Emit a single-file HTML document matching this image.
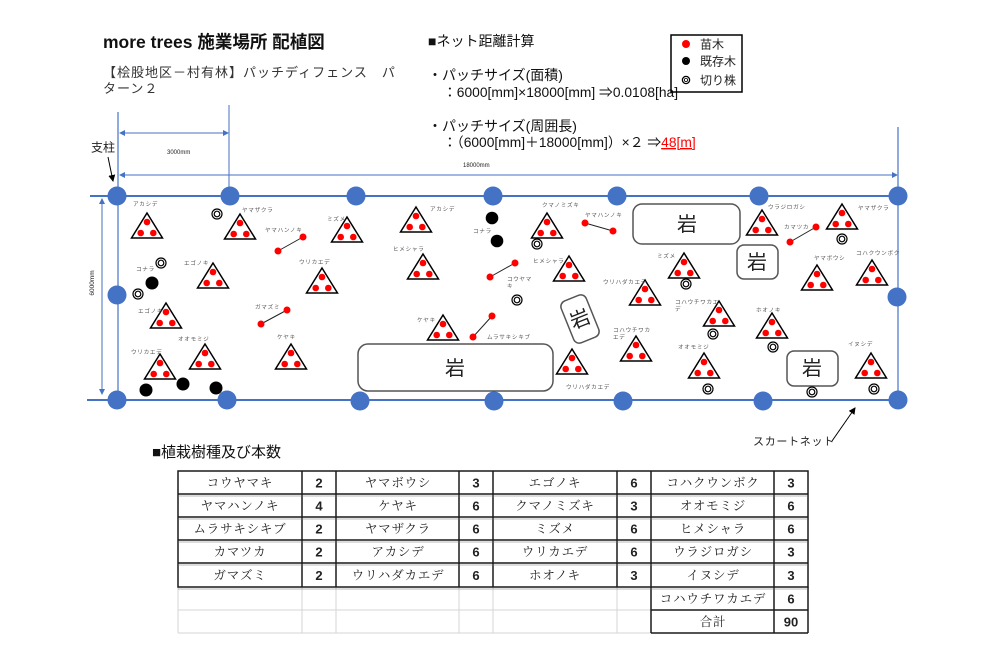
<!DOCTYPE html>
<html><head><meta charset="utf-8">
<style>
html,body{margin:0;padding:0;background:#fff;}
svg{display:block;}
text{font-family:"Liberation Sans","Noto Sans CJK JP",sans-serif;}
.t polygon{fill:#fff;stroke:#000;stroke-width:1.5;stroke-linejoin:miter;}
.t circle{fill:#f00;}
.l{font-size:5.6px;fill:#555;letter-spacing:0.7px;}
.r circle{fill:none;stroke:#000;stroke-width:1.2;}
.bk{fill:#000;}
.p line{stroke:#222;stroke-width:1;}
.p circle{fill:#f00;}
.post{fill:#4472C4;}
.rock{fill:#fff;stroke:#555;stroke-width:1.5;}
.rk{font-family:"Liberation Sans","Noto Sans CJK JP",sans-serif;font-size:20px;fill:#222;text-anchor:middle;}
.tc{font-family:"Liberation Serif","Noto Serif CJK SC",serif;font-size:12.5px;fill:#222;text-anchor:middle;letter-spacing:0.8px;}
.tn{font-family:"Liberation Sans",sans-serif;font-size:13px;font-weight:bold;fill:#222;text-anchor:middle;}
</style></head>
<body>
<svg width="1000" height="666" viewBox="0 0 1000 666" xmlns="http://www.w3.org/2000/svg">
<defs>
<marker id="ab" markerWidth="6" markerHeight="6" refX="5" refY="3" orient="auto" markerUnits="userSpaceOnUse"><path d="M0,0 L6,3 L0,6 z" fill="#4472C4"/></marker>
<marker id="abs" markerWidth="6" markerHeight="6" refX="1" refY="3" orient="auto" markerUnits="userSpaceOnUse"><path d="M6,0 L0,3 L6,6 z" fill="#4472C4"/></marker>
<marker id="ak" markerWidth="7" markerHeight="7" refX="6" refY="3.5" orient="auto" markerUnits="userSpaceOnUse"><path d="M0,0 L7,3.5 L0,7 z" fill="#000"/></marker>
</defs>
<rect width="1000" height="666" fill="#fff"/>

<!-- Title -->
<text x="103" y="48" font-size="17.5" font-weight="bold" fill="#111">more trees 施業場所 配植図</text>
<text x="103" y="77" font-size="13" fill="#333" letter-spacing="1">【桧股地区－村有林】パッチディフェンス　パ</text>
<text x="103" y="93" font-size="13" fill="#333" letter-spacing="1">ターン２</text>

<!-- Net calc -->
<text x="428" y="46" font-size="14" fill="#111">■ネット距離計算</text>
<text x="428" y="80" font-size="14" fill="#111">・パッチサイズ(面積)</text>
<text x="443" y="97" font-size="13.8" fill="#111">：6000[mm]×18000[mm] ⇒0.0108[ha]</text>
<text x="428" y="131" font-size="14" fill="#111">・パッチサイズ(周囲長)</text>
<text x="443" y="147" font-size="13.8" fill="#111">：（6000[mm]＋18000[mm]）×２ ⇒<tspan fill="#f00" text-decoration="underline">48[m]</tspan></text>

<!-- Legend -->
<rect x="671" y="35" width="71" height="57" fill="none" stroke="#000" stroke-width="1.5"/>
<circle cx="686" cy="44" r="4" fill="#f00"/>
<text x="700" y="48.5" font-size="12" fill="#222">苗木</text>
<circle cx="686" cy="61" r="4" fill="#000"/>
<text x="700" y="65.5" font-size="12" fill="#222">既存木</text>
<circle cx="686" cy="80" r="3.6" fill="none" stroke="#000" stroke-width="1.3"/>
<circle cx="686" cy="80" r="1.6" fill="none" stroke="#000" stroke-width="0.8"/>
<text x="700" y="84.5" font-size="12" fill="#222">切り株</text>

<!-- Dimension lines -->
<line x1="118" y1="112" x2="118" y2="400" stroke="#8FAADC" stroke-width="2"/>
<line x1="898" y1="127" x2="898" y2="400" stroke="#8FAADC" stroke-width="2"/>
<line x1="229" y1="105" x2="229" y2="196" stroke="#4472C4" stroke-width="1"/>
<line x1="120" y1="133" x2="228" y2="133" stroke="#4472C4" stroke-width="1" marker-start="url(#abs)" marker-end="url(#ab)"/>
<text x="167" y="154" font-size="6" fill="#222">3000mm</text>
<line x1="120" y1="175" x2="897" y2="175" stroke="#4472C4" stroke-width="1" marker-start="url(#abs)" marker-end="url(#ab)"/>
<text x="463" y="167" font-size="6" fill="#222">18000mm</text>
<line x1="102" y1="199" x2="102" y2="394" stroke="#4472C4" stroke-width="1" marker-start="url(#abs)" marker-end="url(#ab)"/>
<text x="0" y="0" font-size="6.5" fill="#222" text-anchor="middle" transform="translate(94,283) rotate(-90)">6000mm</text>

<!-- 支柱 -->
<text x="91" y="151.5" font-size="12" fill="#222">支柱</text>
<line x1="108" y1="157" x2="113" y2="181" stroke="#000" stroke-width="1" marker-end="url(#ak)"/>

<!-- Frame lines -->
<line x1="90" y1="196" x2="898" y2="196" stroke="#4472C4" stroke-width="2"/>
<line x1="87" y1="400" x2="898" y2="400" stroke="#4472C4" stroke-width="2"/>

<!-- Posts -->
<g class="post">
<circle cx="117" cy="196" r="9.5"/><circle cx="230" cy="196" r="9.5"/><circle cx="356" cy="196" r="9.5"/><circle cx="493" cy="196" r="9.5"/><circle cx="617" cy="196" r="9.5"/><circle cx="759" cy="196" r="9.5"/><circle cx="898" cy="196" r="9.5"/>
<circle cx="117" cy="295" r="9.5"/><circle cx="897" cy="297" r="9.5"/>
<circle cx="117" cy="400" r="9.5"/><circle cx="227" cy="400" r="9.5"/><circle cx="360" cy="401" r="9.5"/><circle cx="494" cy="401" r="9.5"/><circle cx="623" cy="401" r="9.5"/><circle cx="763" cy="401" r="9.5"/><circle cx="898" cy="400" r="9.5"/>
</g>

<!-- Rocks -->
<rect class="rock" x="358" y="344" width="195" height="47" rx="10"/>
<text class="rk" x="455" y="375">岩</text>
<rect class="rock" x="633" y="204" width="107" height="40" rx="9"/>
<text class="rk" x="687" y="231">岩</text>
<rect class="rock" x="737" y="245" width="41" height="34" rx="7"/>
<text class="rk" x="757" y="269" font-size="18">岩</text>
<rect class="rock" x="787" y="351" width="51" height="35" rx="7"/>
<text class="rk" x="812" y="375">岩</text>
<g transform="translate(580,319) rotate(-22)">
<rect class="rock" x="-13.5" y="-22.5" width="27" height="45" rx="6"/>
<text class="rk" x="0" y="7">岩</text>
</g>

<!-- Triangles (saplings) -->
<g class="t" transform="translate(147,213)"><polygon points="0,0 -15.5,25 15.5,25"/><circle cx="0" cy="9" r="3.3"/><circle cx="-6.3" cy="20" r="3.3"/><circle cx="6.3" cy="20" r="3.3"/></g>
<g class="t" transform="translate(240,214)"><polygon points="0,0 -15.5,25 15.5,25"/><circle cx="0" cy="9" r="3.3"/><circle cx="-6.3" cy="20" r="3.3"/><circle cx="6.3" cy="20" r="3.3"/></g>
<g class="t" transform="translate(347,217)"><polygon points="0,0 -15.5,25 15.5,25"/><circle cx="0" cy="9" r="3.3"/><circle cx="-6.3" cy="20" r="3.3"/><circle cx="6.3" cy="20" r="3.3"/></g>
<g class="t" transform="translate(213,263)"><polygon points="0,0 -15.5,25 15.5,25"/><circle cx="0" cy="9" r="3.3"/><circle cx="-6.3" cy="20" r="3.3"/><circle cx="6.3" cy="20" r="3.3"/></g>
<g class="t" transform="translate(322,268)"><polygon points="0,0 -15.5,25 15.5,25"/><circle cx="0" cy="9" r="3.3"/><circle cx="-6.3" cy="20" r="3.3"/><circle cx="6.3" cy="20" r="3.3"/></g>
<g class="t" transform="translate(166,303)"><polygon points="0,0 -15.5,25 15.5,25"/><circle cx="0" cy="9" r="3.3"/><circle cx="-6.3" cy="20" r="3.3"/><circle cx="6.3" cy="20" r="3.3"/></g>
<g class="t" transform="translate(205,344)"><polygon points="0,0 -15.5,25 15.5,25"/><circle cx="0" cy="9" r="3.3"/><circle cx="-6.3" cy="20" r="3.3"/><circle cx="6.3" cy="20" r="3.3"/></g>
<g class="t" transform="translate(291,344)"><polygon points="0,0 -15.5,25 15.5,25"/><circle cx="0" cy="9" r="3.3"/><circle cx="-6.3" cy="20" r="3.3"/><circle cx="6.3" cy="20" r="3.3"/></g>
<g class="t" transform="translate(160,354)"><polygon points="0,0 -15.5,25 15.5,25"/><circle cx="0" cy="9" r="3.3"/><circle cx="-6.3" cy="20" r="3.3"/><circle cx="6.3" cy="20" r="3.3"/></g>
<g class="t" transform="translate(416,207)"><polygon points="0,0 -15.5,25 15.5,25"/><circle cx="0" cy="9" r="3.3"/><circle cx="-6.3" cy="20" r="3.3"/><circle cx="6.3" cy="20" r="3.3"/></g>
<g class="t" transform="translate(547,213)"><polygon points="0,0 -15.5,25 15.5,25"/><circle cx="0" cy="9" r="3.3"/><circle cx="-6.3" cy="20" r="3.3"/><circle cx="6.3" cy="20" r="3.3"/></g>
<g class="t" transform="translate(423,254)"><polygon points="0,0 -15.5,25 15.5,25"/><circle cx="0" cy="9" r="3.3"/><circle cx="-6.3" cy="20" r="3.3"/><circle cx="6.3" cy="20" r="3.3"/></g>
<g class="t" transform="translate(569,256)"><polygon points="0,0 -15.5,25 15.5,25"/><circle cx="0" cy="9" r="3.3"/><circle cx="-6.3" cy="20" r="3.3"/><circle cx="6.3" cy="20" r="3.3"/></g>
<g class="t" transform="translate(443,315)"><polygon points="0,0 -15.5,25 15.5,25"/><circle cx="0" cy="9" r="3.3"/><circle cx="-6.3" cy="20" r="3.3"/><circle cx="6.3" cy="20" r="3.3"/></g>
<g class="t" transform="translate(572,349)"><polygon points="0,0 -15.5,25 15.5,25"/><circle cx="0" cy="9" r="3.3"/><circle cx="-6.3" cy="20" r="3.3"/><circle cx="6.3" cy="20" r="3.3"/></g>
<g class="t" transform="translate(762,210)"><polygon points="0,0 -15.5,25 15.5,25"/><circle cx="0" cy="9" r="3.3"/><circle cx="-6.3" cy="20" r="3.3"/><circle cx="6.3" cy="20" r="3.3"/></g>
<g class="t" transform="translate(842,204)"><polygon points="0,0 -15.5,25 15.5,25"/><circle cx="0" cy="9" r="3.3"/><circle cx="-6.3" cy="20" r="3.3"/><circle cx="6.3" cy="20" r="3.3"/></g>
<g class="t" transform="translate(684,253)"><polygon points="0,0 -15.5,25 15.5,25"/><circle cx="0" cy="9" r="3.3"/><circle cx="-6.3" cy="20" r="3.3"/><circle cx="6.3" cy="20" r="3.3"/></g>
<g class="t" transform="translate(817,265)"><polygon points="0,0 -15.5,25 15.5,25"/><circle cx="0" cy="9" r="3.3"/><circle cx="-6.3" cy="20" r="3.3"/><circle cx="6.3" cy="20" r="3.3"/></g>
<g class="t" transform="translate(872,260)"><polygon points="0,0 -15.5,25 15.5,25"/><circle cx="0" cy="9" r="3.3"/><circle cx="-6.3" cy="20" r="3.3"/><circle cx="6.3" cy="20" r="3.3"/></g>
<g class="t" transform="translate(645,280)"><polygon points="0,0 -15.5,25 15.5,25"/><circle cx="0" cy="9" r="3.3"/><circle cx="-6.3" cy="20" r="3.3"/><circle cx="6.3" cy="20" r="3.3"/></g>
<g class="t" transform="translate(719,301)"><polygon points="0,0 -15.5,25 15.5,25"/><circle cx="0" cy="9" r="3.3"/><circle cx="-6.3" cy="20" r="3.3"/><circle cx="6.3" cy="20" r="3.3"/></g>
<g class="t" transform="translate(772,313)"><polygon points="0,0 -15.5,25 15.5,25"/><circle cx="0" cy="9" r="3.3"/><circle cx="-6.3" cy="20" r="3.3"/><circle cx="6.3" cy="20" r="3.3"/></g>
<g class="t" transform="translate(636,336)"><polygon points="0,0 -15.5,25 15.5,25"/><circle cx="0" cy="9" r="3.3"/><circle cx="-6.3" cy="20" r="3.3"/><circle cx="6.3" cy="20" r="3.3"/></g>
<g class="t" transform="translate(704,353)"><polygon points="0,0 -15.5,25 15.5,25"/><circle cx="0" cy="9" r="3.3"/><circle cx="-6.3" cy="20" r="3.3"/><circle cx="6.3" cy="20" r="3.3"/></g>
<g class="t" transform="translate(871,353)"><polygon points="0,0 -15.5,25 15.5,25"/><circle cx="0" cy="9" r="3.3"/><circle cx="-6.3" cy="20" r="3.3"/><circle cx="6.3" cy="20" r="3.3"/></g>

<!-- Paired saplings -->
<g class="p">
<line x1="278" y1="251" x2="303" y2="237"/><circle cx="278" cy="251" r="3.5"/><circle cx="303" cy="237" r="3.5"/>
<line x1="261" y1="324" x2="287" y2="310"/><circle cx="261" cy="324" r="3.5"/><circle cx="287" cy="310" r="3.5"/>
<line x1="585" y1="223" x2="613" y2="231"/><circle cx="585" cy="223" r="3.5"/><circle cx="613" cy="231" r="3.5"/>
<line x1="490" y1="277" x2="515" y2="263"/><circle cx="490" cy="277" r="3.5"/><circle cx="515" cy="263" r="3.5"/>
<line x1="473" y1="337" x2="492" y2="316"/><circle cx="473" cy="337" r="3.5"/><circle cx="492" cy="316" r="3.5"/>
<line x1="790" y1="242" x2="816" y2="227"/><circle cx="790" cy="242" r="3.5"/><circle cx="816" cy="227" r="3.5"/>
</g>

<!-- Existing trees -->
<g class="bk">
<circle cx="152" cy="283" r="6.5"/><circle cx="146" cy="390" r="6.5"/><circle cx="183" cy="384" r="6.5"/><circle cx="216" cy="388" r="6.5"/><circle cx="492" cy="218" r="6.3"/><circle cx="497" cy="241" r="6.3"/>
</g>

<!-- Stumps -->
<g class="r">
<circle cx="217" cy="214" r="5"/><circle cx="217" cy="214" r="2.8"/>
<circle cx="161" cy="263" r="5"/><circle cx="161" cy="263" r="2.8"/>
<circle cx="138" cy="294" r="5"/><circle cx="138" cy="294" r="2.8"/>
<circle cx="537" cy="244" r="5"/><circle cx="537" cy="244" r="2.8"/>
<circle cx="517" cy="300" r="5"/><circle cx="517" cy="300" r="2.8"/>
<circle cx="842" cy="239" r="5"/><circle cx="842" cy="239" r="2.8"/>
<circle cx="686" cy="284" r="5"/><circle cx="686" cy="284" r="2.8"/>
<circle cx="713" cy="334" r="5"/><circle cx="713" cy="334" r="2.8"/>
<circle cx="773" cy="347" r="5"/><circle cx="773" cy="347" r="2.8"/>
<circle cx="708" cy="389" r="5"/><circle cx="708" cy="389" r="2.8"/>
<circle cx="812" cy="392" r="5"/><circle cx="812" cy="392" r="2.8"/>
<circle cx="874" cy="389" r="5"/><circle cx="874" cy="389" r="2.8"/>
</g>

<!-- Labels -->
<text class="l" x="133" y="206">アカシデ</text>
<text class="l" x="242" y="212">ヤマザクラ</text>
<text class="l" x="265" y="232">ヤマハンノキ</text>
<text class="l" x="327" y="221">ミズメ</text>
<text class="l" x="136" y="271">コナラ</text>
<text class="l" x="184" y="265">エゴノキ</text>
<text class="l" x="299" y="264">ウリカエデ</text>
<text class="l" x="138" y="313">エゴノキ</text>
<text class="l" x="255" y="309">ガマズミ</text>
<text class="l" x="178" y="341">オオモミジ</text>
<text class="l" x="277" y="339">ケヤキ</text>
<text class="l" x="131" y="354">ウリカエデ</text>
<text class="l" x="430" y="211">アカシデ</text>
<text class="l" x="473" y="233">コナラ</text>
<text class="l" x="542" y="207">クマノミズキ</text>
<text class="l" x="585" y="217">ヤマハンノキ</text>
<text class="l" x="393" y="251">ヒメシャラ</text>
<text class="l" x="533" y="263">ヒメシャラ</text>
<text class="l" x="507" y="281">コウヤマ</text>
<text class="l" x="507" y="288">キ</text>
<text class="l" x="417" y="322">ケヤキ</text>
<text class="l" x="487" y="339">ムラサキシキブ</text>
<text class="l" x="566" y="389">ウリハダカエデ</text>
<text class="l" x="603" y="284">ウリハダカエデ</text>
<text class="l" x="768" y="209">ウラジロガシ</text>
<text class="l" x="858" y="210">ヤマザクラ</text>
<text class="l" x="784" y="229">カマツカ</text>
<text class="l" x="657" y="258">ミズメ</text>
<text class="l" x="814" y="260">ヤマボウシ</text>
<text class="l" x="856" y="255">コハクウンボク</text>
<text class="l" x="675" y="304">コハウチワカエ</text>
<text class="l" x="675" y="311">デ</text>
<text class="l" x="756" y="312">ホオノキ</text>
<text class="l" x="613" y="332">コハウチワカ</text>
<text class="l" x="613" y="339">エデ</text>
<text class="l" x="678" y="349">オオモミジ</text>
<text class="l" x="848" y="346">イヌシデ</text>

<!-- Skirt net -->
<text x="753" y="445" font-size="11" fill="#222" letter-spacing="0.7">スカートネット</text>
<line x1="832" y1="441" x2="855" y2="408" stroke="#000" stroke-width="1" marker-end="url(#ak)"/>

<!-- Table header -->
<text x="152" y="457" font-size="15" fill="#111">■植栽樹種及び本数</text>

<!-- Table grid: light gray empty part -->
<g stroke="#d4d4d4" stroke-width="1" fill="none">
<line x1="178" y1="610" x2="651" y2="610"/>
<line x1="178" y1="633" x2="651" y2="633"/>
<line x1="178" y1="587" x2="178" y2="633"/>
<line x1="302" y1="587" x2="302" y2="633"/>
<line x1="336" y1="587" x2="336" y2="633"/>
<line x1="459" y1="587" x2="459" y2="633"/>
<line x1="493" y1="587" x2="493" y2="633"/>
<line x1="617" y1="587" x2="617" y2="633"/>
</g>
<g stroke="#1a1a1a" stroke-width="1.5" fill="none">
<rect x="178" y="471" width="630" height="116"/>
<line x1="178" y1="494" x2="808" y2="494"/>
<line x1="178" y1="517" x2="808" y2="517"/>
<line x1="178" y1="540" x2="808" y2="540"/>
<line x1="178" y1="563" x2="808" y2="563"/>
<line x1="302" y1="471" x2="302" y2="587"/>
<line x1="336" y1="471" x2="336" y2="587"/>
<line x1="459" y1="471" x2="459" y2="587"/>
<line x1="493" y1="471" x2="493" y2="587"/>
<line x1="617" y1="471" x2="617" y2="587"/>
<line x1="651" y1="471" x2="651" y2="633"/>
<line x1="774" y1="471" x2="774" y2="633"/>
<line x1="808" y1="587" x2="808" y2="633"/>
<line x1="651" y1="610" x2="808" y2="610"/>
<line x1="651" y1="633" x2="808" y2="633"/>
</g>
<g stroke="#777" stroke-width="0.6" fill="none">
<line x1="178" y1="496" x2="808" y2="496"/>
<line x1="178" y1="519" x2="808" y2="519"/>
<line x1="178" y1="542" x2="808" y2="542"/>
<line x1="178" y1="565" x2="808" y2="565"/>
<line x1="178" y1="589" x2="808" y2="589"/>
</g>

<!-- Table text -->
<text class="tc" x="240" y="487">コウヤマキ</text><text class="tn" x="319" y="487.5">2</text>
<text class="tc" x="398" y="487">ヤマボウシ</text><text class="tn" x="476" y="487.5">3</text>
<text class="tc" x="555" y="487">エゴノキ</text><text class="tn" x="634" y="487.5">6</text>
<text class="tc" x="713" y="487">コハクウンボク</text><text class="tn" x="791" y="487.5">3</text>

<text class="tc" x="240" y="510">ヤマハンノキ</text><text class="tn" x="319" y="510.5">4</text>
<text class="tc" x="398" y="510">ケヤキ</text><text class="tn" x="476" y="510.5">6</text>
<text class="tc" x="555" y="510">クマノミズキ</text><text class="tn" x="634" y="510.5">3</text>
<text class="tc" x="713" y="510">オオモミジ</text><text class="tn" x="791" y="510.5">6</text>

<text class="tc" x="240" y="533">ムラサキシキブ</text><text class="tn" x="319" y="533.5">2</text>
<text class="tc" x="398" y="533">ヤマザクラ</text><text class="tn" x="476" y="533.5">6</text>
<text class="tc" x="555" y="533">ミズメ</text><text class="tn" x="634" y="533.5">6</text>
<text class="tc" x="713" y="533">ヒメシャラ</text><text class="tn" x="791" y="533.5">6</text>

<text class="tc" x="240" y="556">カマツカ</text><text class="tn" x="319" y="556.5">2</text>
<text class="tc" x="398" y="556">アカシデ</text><text class="tn" x="476" y="556.5">6</text>
<text class="tc" x="555" y="556">ウリカエデ</text><text class="tn" x="634" y="556.5">6</text>
<text class="tc" x="713" y="556">ウラジロガシ</text><text class="tn" x="791" y="556.5">3</text>

<text class="tc" x="240" y="579.5">ガマズミ</text><text class="tn" x="319" y="580">2</text>
<text class="tc" x="398" y="579.5">ウリハダカエデ</text><text class="tn" x="476" y="580">6</text>
<text class="tc" x="555" y="579.5">ホオノキ</text><text class="tn" x="634" y="580">3</text>
<text class="tc" x="713" y="579.5">イヌシデ</text><text class="tn" x="791" y="580">3</text>

<text class="tc" x="713" y="603">コハウチワカエデ</text><text class="tn" x="791" y="603.5">6</text>
<text class="tc" x="713" y="626">合計</text><text class="tn" x="791" y="626.5">90</text>
</svg>
</body></html>
